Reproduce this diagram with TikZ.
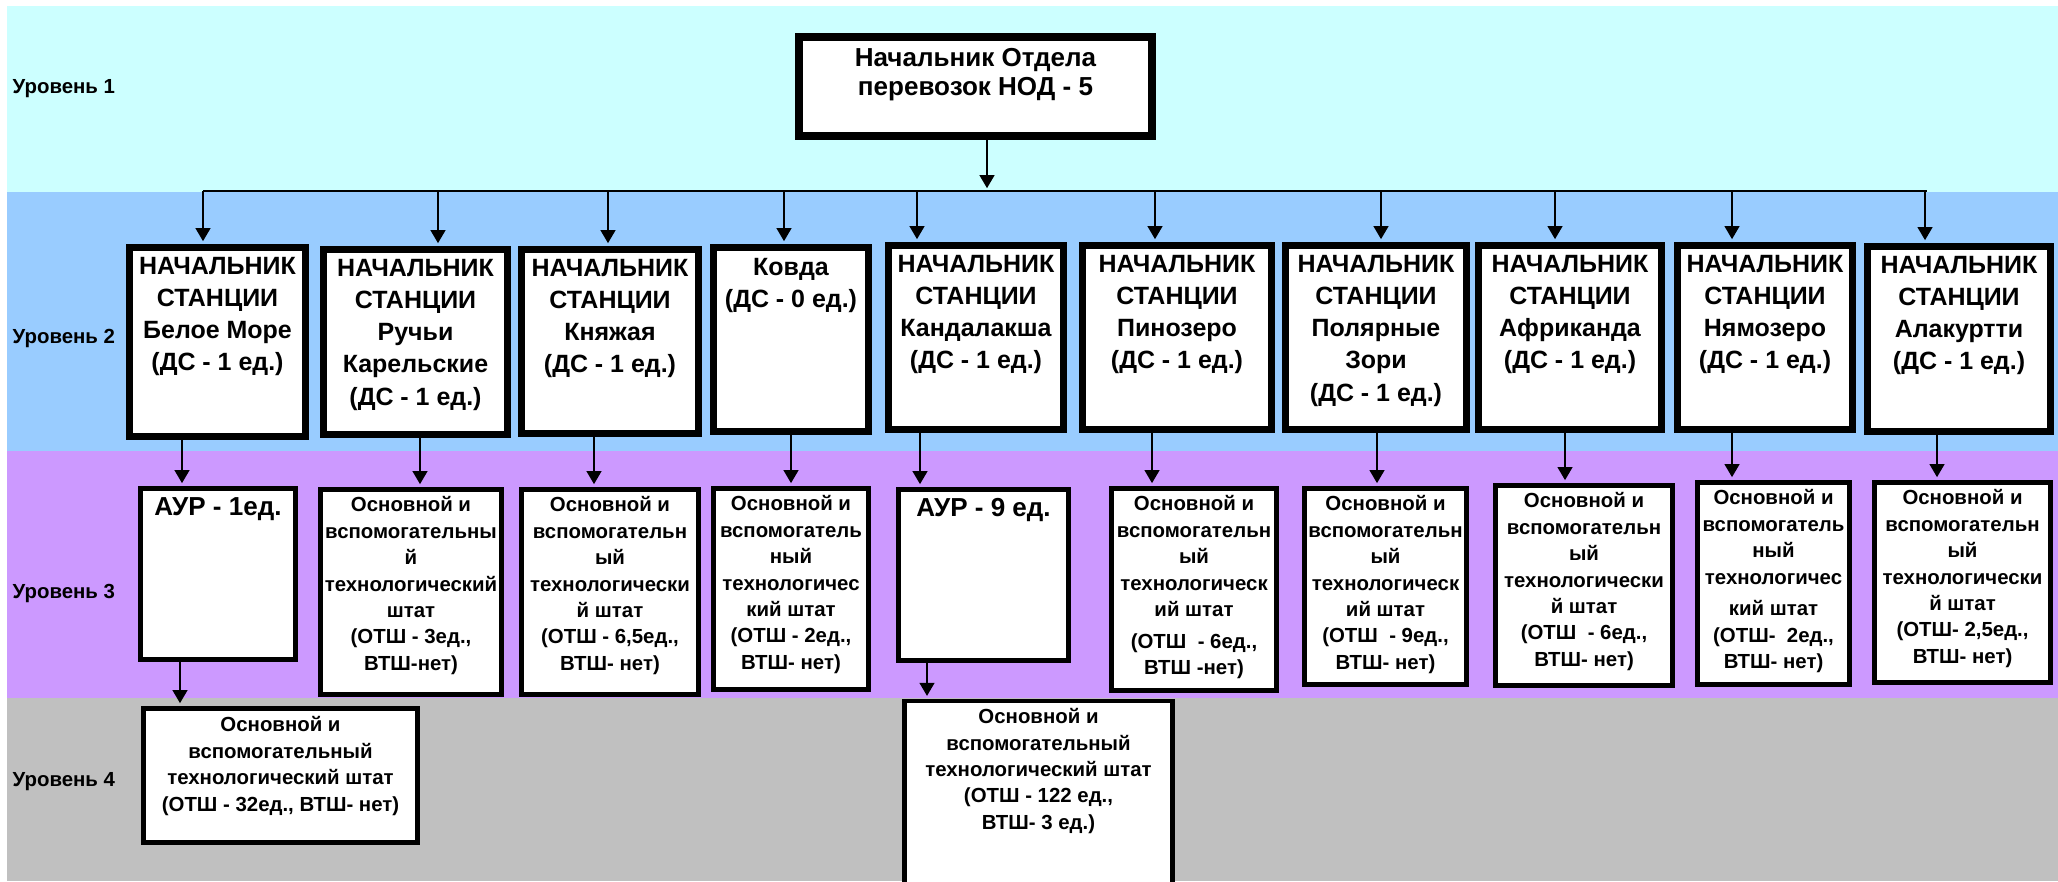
\documentclass[tikz,border=0pt]{standalone}
\usepackage{fontspec}
\setmainfont{Liberation Sans}
\usetikzlibrary{arrows.meta}
\tikzset{>={Triangle[length=3.7pt,width=4.2pt]}}
\definecolor{lvone}{RGB}{204,255,255}
\definecolor{lvtwo}{RGB}{153,204,255}
\definecolor{lvthree}{RGB}{204,153,255}
\definecolor{lvfour}{RGB}{192,192,192}
\newlength{\pxu}
\setlength{\pxu}{0.01cm}
\tikzstyle{link} = [->, line width=0.5pt, shorten >=0.8pt]
\tikzstyle{chief} = [draw, fill=white, line width=2.3pt, inner sep=0pt, font=\bfseries\fontsize{7.4pt}{8.3pt}\selectfont]
\tikzstyle{stn} = [draw, fill=white, line width=2pt, inner sep=0pt, font=\bfseries\fontsize{7.1pt}{9.16pt}\selectfont]
\tikzstyle{staff} = [draw, fill=white, line width=1.3pt, inner sep=0pt, font=\bfseries\fontsize{5.8pt}{7.5pt}\selectfont]
\tikzstyle{aur} = [staff, font=\bfseries\fontsize{7.4pt}{9pt}\selectfont]
\tikzstyle{lvl} = [anchor=base west, inner sep=0pt, font=\bfseries\fontsize{5.8pt}{7pt}\selectfont]
% width, height, top gap, text
\newcommand{\cell}[4]{\parbox[c][#2\pxu][t]{#1\pxu}{\centering\vspace*{#3\pxu}#4}}

\begin{document}
\begin{tikzpicture}[x=0.01cm, y=-0.01cm]
		\useasboundingbox (0,0) rectangle (2058,881);
		
		% Levels
		\fill[lvone] (7,6) rectangle (2058,192);
		\fill[lvtwo] (7,192) rectangle (2058,451);
		\fill[lvthree] (7,451) rectangle (2058,698);
		\fill[lvfour] (7,698) rectangle (2058,881);
		\node[lvl] (u1) at (12,93) {Уровень 1};
		\node[lvl] (u2) at (12,343) {Уровень 2};
		\node[lvl] (u3) at (12,598) {Уровень 3};
		\node[lvl] (u4) at (12,786) {Уровень 4};
		
		% Level 1
		\node[chief] (nod) at (975.5,86.5) {\cell{353}{99}{11.5}{Начальник Отдела\\перевозок НОД - 5}};
		
		% Level 2
		\node[stn] (bm) at (217.5,342) {\cell{176}{189}{9.5}{НАЧАЛЬНИК\\СТАНЦИИ\\Белое Море\\(ДС - 1 ед.)}};
		\node[stn] (rk) at (415.5,342) {\cell{184}{185}{9.5}{НАЧАЛЬНИК\\СТАНЦИИ\\Ручьи\\Карельские\\(ДС - 1 ед.)}};
		\node[stn] (kn) at (610,341.5) {\cell{177}{184}{9.5}{НАЧАЛЬНИК\\СТАНЦИИ\\Княжая\\(ДС - 1 ед.)}};
		\node[stn] (kv) at (791,339.5) {\cell{155}{184}{10.5}{Ковда\\(ДС - 0 ед.)}};
		\node[stn] (kd) at (976,337.5) {\cell{175}{184}{9.5}{НАЧАЛЬНИК\\СТАНЦИИ\\Кандалакша\\(ДС - 1 ед.)}};
		\node[stn] (pn) at (1177,337.5) {\cell{189}{184}{9.5}{НАЧАЛЬНИК\\СТАНЦИИ\\Пинозеро\\(ДС - 1 ед.)}};
		\node[stn] (pz) at (1376,337.5) {\cell{181}{184}{9.5}{НАЧАЛЬНИК\\СТАНЦИИ\\Полярные\\Зори\\(ДС - 1 ед.)}};
		\node[stn] (af) at (1570,337.5) {\cell{183}{184}{9.5}{НАЧАЛЬНИК\\СТАНЦИИ\\Африканда\\(ДС - 1 ед.)}};
		\node[stn] (nm) at (1765,337.5) {\cell{175}{184}{9.5}{НАЧАЛЬНИК\\СТАНЦИИ\\Нямозеро\\(ДС - 1 ед.)}};
		\node[stn] (al) at (1959,339) {\cell{183}{185}{9.5}{НАЧАЛЬНИК\\СТАНЦИИ\\Алакуртти\\(ДС - 1 ед.)}};
		
		% Level 3
		\node[aur] (a1) at (218,574) {\cell{155.5}{171.5}{9}{АУР - 1ед.}};
		\node[staff] (rk3) at (411,592) {\cell{181.5}{205.5}{7.5}{Основной и\\вспомогательны\\й\\технологический\\штат\\(ОТШ - 3ед.,\\ВТШ-нет)}};
		\node[staff] (kn3) at (610,592) {\cell{177.5}{205.5}{7.5}{Основной и\\вспомогательн\\ый\\технологически\\й штат\\(ОТШ - 6,5ед.,\\ВТШ- нет)}};
		\node[staff] (kv3) at (791,589) {\cell{155.5}{201.5}{7.5}{Основной и\\вспомогатель\\ный\\технологичес\\кий штат\\(ОТШ - 2ед.,\\ВТШ- нет)}};
		\node[aur] (a9) at (983.5,575) {\cell{170.5}{171.5}{9}{АУР - 9 ед.}};
		\node[staff] (pn3) at (1194,589.5) {\cell{165.5}{202.5}{7.5}{Основной и\\вспомогательн\\ый\\технологическ\\ий штат\\[1.6pt](ОТШ~ - 6ед.,\\ВТШ -нет)}};
		\node[staff] (pz3) at (1385.5,586.5) {\cell{162.5}{196.5}{7.5}{Основной и\\вспомогательн\\ый\\технологическ\\ий штат\\(ОТШ~ - 9ед.,\\ВТШ- нет)}};
		\node[staff] (af3) at (1584,585.5) {\cell{177.5}{200.5}{7.5}{Основной и\\вспомогательн\\ый\\технологически\\й штат\\(ОТШ~ - 6ед.,\\ВТШ- нет)}};
		\node[staff] (nm3) at (1773.5,583.5) {\cell{152.5}{202.5}{7.5}{Основной и\\вспомогатель\\ный\\технологичес\\[1.5pt]кий штат\\(ОТШ-~ 2ед.,\\ВТШ- нет)}};
		\node[staff] (al3) at (1962.5,582.5) {\cell{176.5}{200.5}{7.5}{Основной и\\вспомогательн\\ый\\технологически\\й штат\\(ОТШ- 2,5ед.,\\ВТШ- нет)}};
		
		% Level 4
		\node[staff] (a1s) at (280.5,775.5) {\cell{274.5}{134.5}{8.5}{Основной и\\вспомогательный\\технологический штат\\(ОТШ - 32ед., ВТШ- нет)}};
		\node[staff] (a9s) at (1038.5,799.5) {\cell{268.5}{197}{7.5}{Основной и\\вспомогательный\\технологический штат\\(ОТШ - 122 ед.,\\ВТШ- 3 ед.)}};
		
		% Bus
		\coordinate (bL) at (203,191);
		\coordinate (bR) at (1927,191);
		\draw[line width=0.6pt] (bL) -- (bR);
		\path (nod.south) ++(11.5,0) coordinate (nod-out);
		\draw[link] (nod-out) -- (nod-out |- bL);
		
		% Links
		\foreach \n/\dx in {bm/-14.5, rk/22.5, kn/-2, kv/-7, kd/-59, pn/-22, pz/5, af/-15, nm/-33, al/-34}
		{
			\path (\n.north) ++(\dx,0) coordinate (\n-in);
			\draw[link] (\n-in |- bL) -- (\n-in);
		}
		\foreach \src/\dst/\dx in {bm/a1/-36, rk/rk3/9, kn/kn3/-16, kv/kv3/0, kd/a9/-63.5, pn/pn3/-42, pz/pz3/-8.5, af/af3/-19, nm/nm3/-41.5, al/al3/-25.5, a1/a1s/-100.5, a9/a9s/-111.5}
		{
			\path (\dst.north) ++(\dx,0) coordinate (\dst-in);
			\draw[link] (\dst-in |- \src.south) -- (\dst-in);
		}
	\end{tikzpicture}
\end{document}
